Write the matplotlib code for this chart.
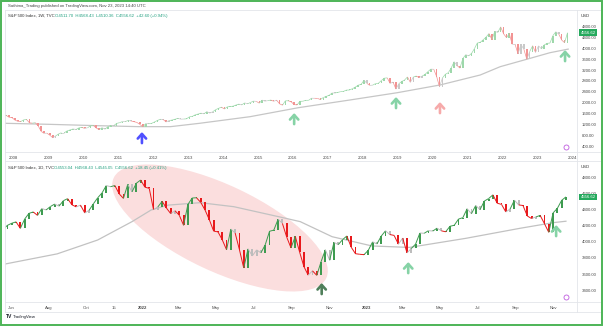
import numpy as np
import pandas as pd
import matplotlib
matplotlib.use("Agg")
import matplotlib.pyplot as plt
import matplotlib.dates as mdates
from matplotlib.patches import Ellipse, Rectangle
from matplotlib.lines import Line2D
from matplotlib.collections import LineCollection
from matplotlib.transforms import IdentityTransform, blended_transform_factory, Bbox, TransformedBbox

W, H = 603, 326
FONT = "Liberation Sans"

# ---- top panel: S&P 500 monthly closes, Sep 2007 .. Nov 2023
top_start = "2007-09-01"
top_close = [
    1527, 1549, 1481, 1468,
    1379, 1331, 1323, 1386, 1400, 1280, 1267, 1283, 1166, 969, 896, 903,
    826, 735, 798, 873, 919, 919, 987, 1021, 1057, 1036, 1096, 1115,
    1074, 1104, 1169, 1187, 1089, 1031, 1102, 1049, 1141, 1183, 1181, 1258,
    1286, 1327, 1326, 1364, 1345, 1321, 1292, 1219, 1131, 1253, 1247, 1258,
    1312, 1366, 1408, 1398, 1310, 1362, 1379, 1407, 1441, 1412, 1416, 1426,
    1498, 1515, 1569, 1598, 1631, 1606, 1686, 1633, 1682, 1757, 1806, 1848,
    1783, 1859, 1872, 1884, 1924, 1960, 1931, 2003, 1972, 2018, 2068, 2059,
    1995, 2105, 2068, 2086, 2107, 2063, 2104, 1972, 1920, 2079, 2080, 2044,
    1940, 1932, 2060, 2065, 2097, 2099, 2174, 2171, 2168, 2126, 2199, 2239,
    2279, 2364, 2363, 2384, 2412, 2423, 2470, 2472, 2519, 2575, 2648, 2674,
    2824, 2714, 2641, 2648, 2705, 2718, 2816, 2902, 2914, 2712, 2760, 2507,
    2704, 2784, 2834, 2946, 2752, 2942, 2980, 2926, 2977, 3038, 3141, 3231,
    3226, 2954, 2585, 2912, 3044, 3100, 3271, 3500, 3363, 3270, 3622, 3756,
    3714, 3811, 3973, 4181, 4204, 4298, 4395, 4523, 4308, 4605, 4567, 4766,
    4516, 4374, 4530, 4132, 4132, 3785, 4130, 3955, 3586, 3872, 4080, 3840,
    4077, 3970, 4109, 4169, 4180, 4450, 4589, 4508, 4288, 4194, 4557,
]
top_ma_dates = ["2007-10-03", "2009-01-01", "2010-06-01", "2011-08-01", "2012-07-01",
                "2013-05-01", "2014-10-10", "2016-03-01", "2017-08-20", "2018-12-30",
                "2020-03-20", "2021-05-15", "2021-12-10", "2022-10-20", "2023-05-15",
                "2023-11-22"]
top_ma = [1262, 1225, 1175, 1140, 1140, 1262, 1502, 1830, 2109, 2375,
          2655, 3018, 3320, 3625, 3829, 3960]
top_years = list(range(2008, 2025))
top_prices = list(range(400, 4801, 400))
top_arrow_dates = ["2011-09-05", "2016-01-15", "2018-12-16", "2020-03-20", "2023-10-20"]
top_arrow_prices = [945, 1636, 2218, 2036, 3927]
top_arrow_colors = ["#5050ff", "#86d3a6", "#86d3a6", "#f6aaaa", "#86d3a6"]

# ---- bottom panel: S&P 500 weekly closes, May 2021 .. Nov 2023
bot_first_friday = "2021-05-21"
bot_close = [
    4156, 4204, 4230, 4247, 4166, 4281, 4352, 4370, 4327, 4412,
    4395, 4437, 4468, 4442, 4509, 4535, 4459, 4433, 4455, 4357,
    4391, 4471, 4545, 4605, 4697, 4683, 4698, 4595, 4538, 4712,
    4620, 4726, 4766,
    4677, 4663, 4398, 4432, 4501, 4419, 4349, 4385, 4329, 4204,
    4463, 4543, 4546, 4488, 4393, 4272, 4132, 4123, 4024, 3901,
    4158, 4109, 3901, 3675, 3912, 3825, 3899, 3863, 3962, 4130,
    4145, 4280, 4228, 4058, 3924, 4067, 3873, 3693, 3586, 3640,
    3583, 3753, 3901, 3771, 3993, 3965, 4026, 4072, 3934, 3852,
    3845, 3840,
    3895, 3999, 3973, 4070, 4136, 4090, 4079, 3970, 4046, 3862,
    3917, 3971, 4109, 4105, 4138, 4133, 4169, 4136, 4124, 4192,
    4205, 4282, 4299, 4410, 4348, 4450, 4399, 4505, 4536, 4582,
    4478, 4464, 4370, 4406, 4516, 4457, 4450, 4320, 4288, 4308,
    4327, 4224, 4117, 4358, 4415, 4514, 4557,
]
bot_ma_dates = ["2021-05-22", "2021-08-15", "2021-10-20", "2021-12-15", "2022-01-15",
                "2022-02-12", "2022-04-05", "2022-05-30", "2022-08-15", "2022-09-15",
                "2022-11-06", "2023-01-10", "2023-03-12", "2023-06-12", "2023-09-08",
                "2023-11-01", "2023-11-22"]
bot_ma = [3724, 3850, 4022, 4250, 4394, 4455, 4485, 4435, 4304, 4250,
          4063, 3948, 3930, 4043, 4167, 4237, 4255]
bot_tick_dates = ["2021-06-01", "2021-08-01", "2021-10-01", "2021-11-15", "2022-01-01",
                  "2022-03-01", "2022-05-01", "2022-07-01", "2022-09-01", "2022-11-01",
                  "2023-01-01", "2023-03-01", "2023-05-01", "2023-07-01", "2023-09-01",
                  "2023-11-01"]
bot_tick_labels = ["Jun", "Aug", "Oct", "15", "2022", "Mar", "May", "Jul", "Sep", "Nov",
                   "2023", "Mar", "May", "Jul", "Sep", "Nov"]
bot_prices = list(range(3400, 4801, 200))
bot_arrow_dates = ["2022-10-20", "2023-03-10", "2023-11-06"]
bot_arrow_prices = [3489, 3749, 4208]
bot_arrow_colors = ["#4f7f5a", "#86d3a6", "#86d3a6"]

last_price = 4556.62


def box(l, t, r, b):
    return [l / W, 1 - b / H, (r - l) / W, (b - t) / H]


def fx(x):
    return x / W


def fy(y):
    return 1 - y / H


def num(d):
    return mdates.date2num(pd.to_datetime(d))


def candles(ax, x, closes, width, cols, min_h, link_lw):
    c = np.array(closes, float)
    o, cl = c[:-1], c[1:]
    diff = cl - o
    ch2 = np.r_[diff[0], cl[1:] - c[:-2]]
    col = np.where((diff > 0) & (ch2 > 0), cols[0],
                   np.where((diff < 0) & (ch2 < 0), cols[1], cols[2]))
    h = np.maximum(np.abs(diff), min_h)
    ax.bar(x[1:], h, bottom=np.minimum(o, cl), width=width, color=col,
           linewidth=0, zorder=3)
    # thin links from one bar to the next, like the wicks of the finer bars
    segs = [[(x[i], o[i]), (x[i + 1], cl[i])] for i in range(len(cl))]
    ax.add_collection(LineCollection(segs, colors=col, linewidths=link_lw, zorder=3))


def arrows(ax, dates, prices, colors):
    for d, p, c in zip(dates, prices, colors):
        ax.annotate("", xy=(num(d), p), xytext=(0, -8), textcoords="offset points",
                    arrowprops=dict(arrowstyle="->,head_length=0.33,head_width=0.3",
                                    color=c, lw=1.9, shrinkA=0, shrinkB=0),
                    zorder=5)


def style_axis(ax, prices, ylim, xlim):
    ax.set_xlim(xlim)
    ax.set_ylim(ylim)
    for s in ax.spines.values():
        s.set_visible(False)
    ax.yaxis.tick_right()
    ax.set_yticks(prices)
    ax.set_yticklabels([f"{p:.2f}" for p in prices])
    ax.tick_params(axis="both", length=0, labelsize=3.1, colors="#4a4a4a")
    ax.tick_params(axis="y", pad=3.2)
    ax.tick_params(axis="x", pad=3.0)
    for t in ax.get_xticklabels() + ax.get_yticklabels():
        t.set_fontfamily(FONT)


def tag(ax, price):
    tr = blended_transform_factory(ax.transAxes, ax.transData)
    ax.annotate(f"{price:.2f}", xy=(1, price), xycoords=tr, xytext=(2.6, 0),
                textcoords="offset points", ha="left", va="center", fontsize=3.1,
                color="white", family=FONT, annotation_clip=False, zorder=6,
                bbox=dict(boxstyle="square,pad=0.3", fc="#25a95d", ec="none"))


fig = plt.figure(figsize=(W / 100, H / 100), dpi=100)
fig.patch.set_facecolor("white")

ax1 = fig.add_axes(box(5, 10, 577, 152))
ax2 = fig.add_axes(box(5, 161, 577, 302))

# top panel
tx = num(pd.date_range(top_start, periods=len(top_close), freq="MS")) + 14
candles(ax1, tx, top_close, 16, ("#9ed8ab", "#f29393", "#c9c9c9"), 22, 0.5)
ax1.plot(num(top_ma_dates), top_ma, color="#c6c6c6", lw=0.9, zorder=2)
arrows(ax1, top_arrow_dates, top_arrow_prices, top_arrow_colors)
style_axis(ax1, top_prices, (218, 5382), (num("2007-10-03"), num("2024-02-22")))
ax1.set_xticks(num([f"{y}-01-01" for y in top_years]))
ax1.set_xticklabels([str(y) for y in top_years])
for t in ax1.get_xticklabels():
    t.set_fontfamily(FONT)
clip = TransformedBbox(Bbox([[0, -0.3], [1.0, 1.0]]), ax1.transAxes)
for t in ax1.get_xticklabels():
    t.set_clip_box(clip)
    t.set_clip_on(True)
tag(ax1, last_price)

# bottom panel
bx = num(pd.date_range(bot_first_friday, periods=len(bot_close), freq="W-FRI")) - 2
ell = Ellipse((220, H - 228), 235, 86, angle=-25.3, transform=IdentityTransform(),
              facecolor="#fbdede", edgecolor="none", zorder=1)
ax2.add_patch(ell)
candles(ax2, bx, bot_close, 3.0, ("#3e9b50", "#e8191c", "#bdbdbd"), 9, 0.7)
ax2.plot(num(bot_ma_dates), bot_ma, color="#c2c2c2", lw=0.9, zorder=2)
arrows(ax2, bot_arrow_dates, bot_arrow_prices, bot_arrow_colors)
style_axis(ax2, bot_prices, (3253, 5002), (num("2021-05-22"), num("2023-12-10")))
ax2.set_xticks(num(bot_tick_dates))
ax2.set_xticklabels(bot_tick_labels)
for t in ax2.get_xticklabels():
    t.set_fontfamily(FONT)
    if t.get_text() in ("2022", "2023"):
        t.set_fontweight("bold")
tag(ax2, last_price)

# small event icons
for ax in (ax1, ax2):
    ax.plot([0.981], [0.035], transform=ax.transAxes, marker="o", ms=3.6,
            mfc="white", mec="#c05ce0", mew=0.6, zorder=6, clip_on=False)

# separators and frame
sep = "#e3e5ea"
for y in (10, 152, 161, 302, 312):
    fig.add_artist(Line2D([fx(5), fx(600)], [fy(y), fy(y)], color=sep, lw=0.6))
fig.add_artist(Line2D([fx(577), fx(577)], [fy(10), fy(312)], color=sep, lw=0.6))
fig.add_artist(Line2D([fx(5), fx(5)], [fy(10), fy(312)], color=sep, lw=0.6))
fig.add_artist(Rectangle((0.8 / W, 0.8 / H), (W - 1.6) / W, (H - 1.6) / H,
                         transform=fig.transFigure, fill=False, ec="#4db457", lw=1.4))

# texts
fig.text(fx(8), fy(6), "Sathima_Trading published on TradingView.com, Nov 23, 2023 14:40 UTC",
         fontsize=3.1, color="#444444", va="center", family=FONT)
hdr_vals = "O4511.70  H4568.43  L4510.36  C4556.62  +42.60 (+0.94%)"
fig.text(fx(8), fy(16), "S&P 500 Index, 1W, TVC", fontsize=3.1, color="#333333",
         va="center", family=FONT)
fig.text(fx(55), fy(16), hdr_vals, fontsize=3.1, color="#1f9f7f", va="center", family=FONT)
fig.text(fx(8), fy(168), "S&P 500 Index, 1D, TVC", fontsize=3.1, color="#333333",
         va="center", family=FONT)
fig.text(fx(54), fy(168), "O4553.04  H4568.43  L4545.05  C4556.62  +18.45 (+0.41%)",
         fontsize=3.1, color="#1f9f7f", va="center", family=FONT)
fig.text(fx(581), fy(16), "USD", fontsize=3.1, color="#333333", va="center", family=FONT)
fig.text(fx(581), fy(167), "USD", fontsize=3.1, color="#333333", va="center", family=FONT)
fig.text(fx(6), fy(317), "TV", fontsize=3.6, color="#131722", va="center",
         family=FONT, fontweight="bold")
fig.text(fx(13), fy(317), "TradingView", fontsize=3.1, color="#131722", va="center",
         family=FONT)

fig.savefig("out.png", dpi=100)
